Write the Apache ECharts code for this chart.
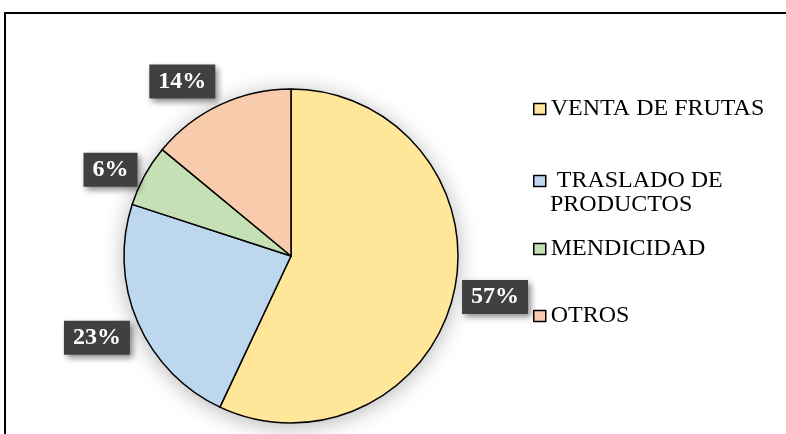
<!DOCTYPE html>
<html>
<head>
<meta charset="utf-8">
<script src="https://cdn.jsdelivr.net/npm/echarts@6/dist/echarts.min.js"></script>
<style>
html,body{margin:0;padding:0;background:#fff;}
#chart{width:786px;height:434px;}
</style>
</head>
<body>
<div id="chart"></div>
<script>
const categories = ['VENTA DE FRUTAS', ' TRASLADO DE PRODUCTOS', 'MENDICIDAD', 'OTROS'];
const values = [57, 23, 6, 14];
const colors = ['#FFE699', '#BDD7EE', '#C5E0B4', '#F8CBAD'];
const legendLabels = ['VENTA DE FRUTAS', ' TRASLADO DE', 'MENDICIDAD', 'OTROS'];

const FONT = '"Liberation Serif", "Times New Roman", serif';
const center = [291, 256];
const labelNudge = [[3, -4], [-5, 0], [0, 13], [-21, 12]];

const pieData = categories.map((c, i) => ({ name: c, value: values[i], itemStyle: { color: colors[i] } }));

const legendTops = [97, 169, 237, 304];
const legends = categories.map((c, i) => ({
  data: [c],
  left: 533,
  top: legendTops[i],
  padding: 0,
  icon: 'rect',
  itemWidth: 12,
  itemHeight: 11,
  selectedMode: false,
  itemStyle: { borderColor: '#000', borderWidth: 1.5 },
  formatter: () => legendLabels[i],
  textStyle: { fontFamily: FONT, fontSize: 24, color: '#000', lineHeight: 24 }
}));

const chart = echarts.init(document.getElementById('chart'), null, { renderer: 'canvas' });
chart.setOption({
  animation: false,
  backgroundColor: '#fff',
  legend: legends,
  graphic: [
    { type: 'rect', shape: { x: 5, y: 13, width: 900, height: 600 }, style: { fill: 'none', stroke: '#000', lineWidth: 2 }, z: 100 },
    { type: 'text', left: 550, top: 193, style: { text: 'PRODUCTOS', font: '24px ' + FONT, fill: '#000' } }
  ],
  series: [
    {
      type: 'pie',
      silent: true,
      center: center,
      radius: [0, 167],
      z: 1,
      label: { show: false },
      labelLine: { show: false },
      data: [{ value: 1, itemStyle: { color: '#fff', shadowBlur: 22, shadowColor: 'rgba(0,0,0,0.3)', shadowOffsetX: 0, shadowOffsetY: 3 } }]
    },
    {
      type: 'pie',
      center: center,
      radius: [0, 167],
      startAngle: 90,
      clockwise: true,
      z: 2,
      itemStyle: { borderColor: '#000', borderWidth: 1.5 },
      label: { show: false },
      labelLine: { show: false },
      emphasis: { disabled: true },
      data: pieData
    },
    {
      type: 'pie',
      silent: true,
      center: center,
      radius: [198, 208],
      startAngle: 90,
      clockwise: true,
      z: 3,
      itemStyle: { color: 'rgba(0,0,0,0)', borderWidth: 0 },
      labelLine: { show: false },
      labelLayout: p => ({ dx: labelNudge[p.dataIndex][0], dy: labelNudge[p.dataIndex][1] }),
      label: {
        show: true,
        position: 'inside',
        formatter: p => p.value + '%',
        fontFamily: FONT,
        fontWeight: 'bold',
        fontSize: 24,
        lineHeight: 24,
        color: '#fff',
        backgroundColor: '#404040',
        padding: [5, 9],
        shadowColor: 'rgba(0,0,0,0.45)',
        shadowBlur: 6,
        shadowOffsetX: 3,
        shadowOffsetY: 3
      },
      data: categories.map((c, i) => ({ name: c, value: values[i] }))
    }
  ]
});
</script>
</body>
</html>
